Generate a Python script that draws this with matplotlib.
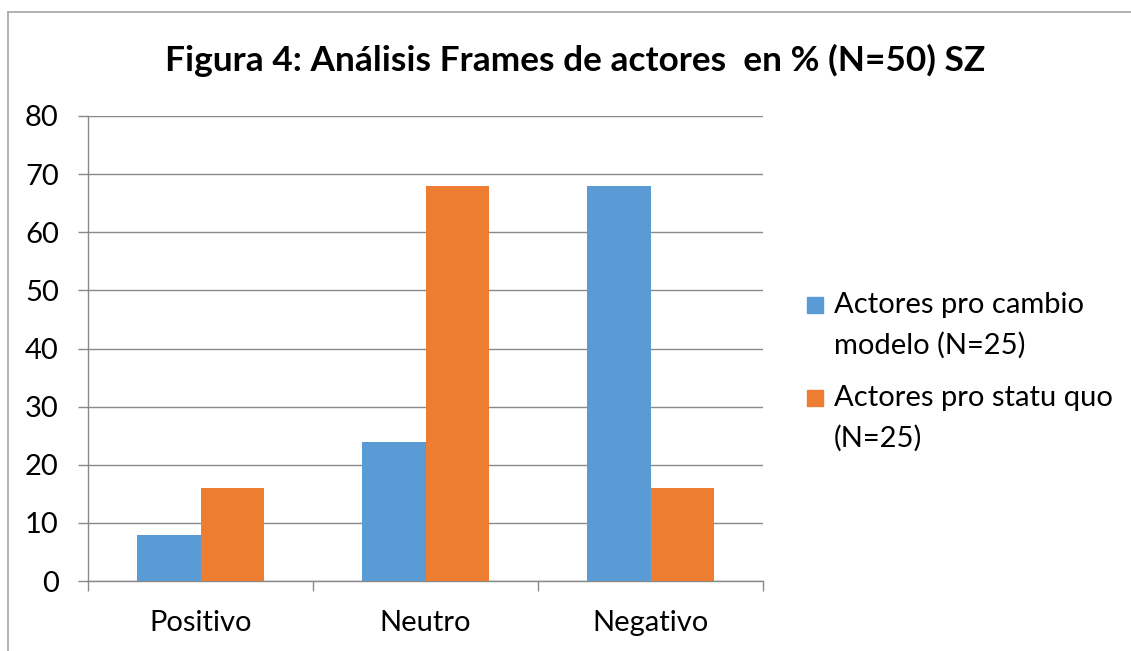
import matplotlib.pyplot as plt
import numpy as np
from matplotlib.patches import Rectangle

# datos
categorias = ["Positivo", "Neutro", "Negativo"]
pro_cambio = [8, 24, 68]
pro_statu_quo = [16, 68, 16]
series_labels = ["Actores pro cambio\nmodelo (N=25)", "Actores pro statu quo\n(N=25)"]
titulo = "Figura 4: Análisis Frames de actores  en % (N=50) SZ"

azul = "#5B9BD5"
naranja = "#ED7D31"
gris = "#898989"

plt.rcParams['font.family'] = ['Lato', 'DejaVu Sans']

fig = plt.figure(figsize=(11.31, 6.51), dpi=100)
ax = fig.add_axes([88/1131, 1 - 581/651, 675/1131, 465/651])

x = np.arange(len(categorias))
w = 0.284
ax.bar(x - w/2, pro_cambio, w, color=azul, zorder=3)
ax.bar(x + w/2, pro_statu_quo, w, color=naranja, zorder=3)

ax.set_xlim(-0.5, len(categorias) - 0.5)
ax.set_ylim(0, 80)
ax.set_yticks(range(0, 81, 10))
ax.yaxis.grid(True, color=gris, lw=1, zorder=0)

ax.set_xticks(x)
ax.set_xticklabels(categorias, fontsize=21)
ax.set_xticks(np.arange(len(categorias) + 1) - 0.5, minor=True)
ax.tick_params(axis='x', which='major', length=0, pad=21)
ax.tick_params(axis='x', which='minor', length=7, color=gris, width=1, direction='out')
ax.tick_params(axis='y', length=7, color=gris, width=1, labelsize=21, pad=14)

for s in ['top', 'right']:
    ax.spines[s].set_visible(False)
for s in ['left', 'bottom']:
    ax.spines[s].set_color(gris)
    ax.spines[s].set_linewidth(1)

fig.text(575/1131, 1 - 60/651, titulo, ha='center', va='center', fontsize=25.4, fontweight='bold')

# leyenda manual (texto en dos lineas, cuadro junto a la primera linea)
for i, (lab, col) in enumerate(zip(series_labels, [azul, naranja])):
    ytop = 1 - (292 + i*93)/651
    fig.patches.append(Rectangle((807/1131, 1 - (313 + i*93)/651), 16/1131, 16/651,
                                 transform=fig.transFigure, color=col))
    fig.text(834/1131, ytop, lab, ha='left', va='top', fontsize=21, linespacing=1.62)

# marco del area del grafico (solo visible arriba e izquierda)
fig.add_artist(plt.Line2D([8/1131, 8/1131], [0, 1 - 12/651], color='#A6A6A6', lw=1.2))
fig.add_artist(plt.Line2D([8/1131, 1], [1 - 12/651, 1 - 12/651], color='#A6A6A6', lw=1.2))

fig.savefig("out.png", dpi=100)
